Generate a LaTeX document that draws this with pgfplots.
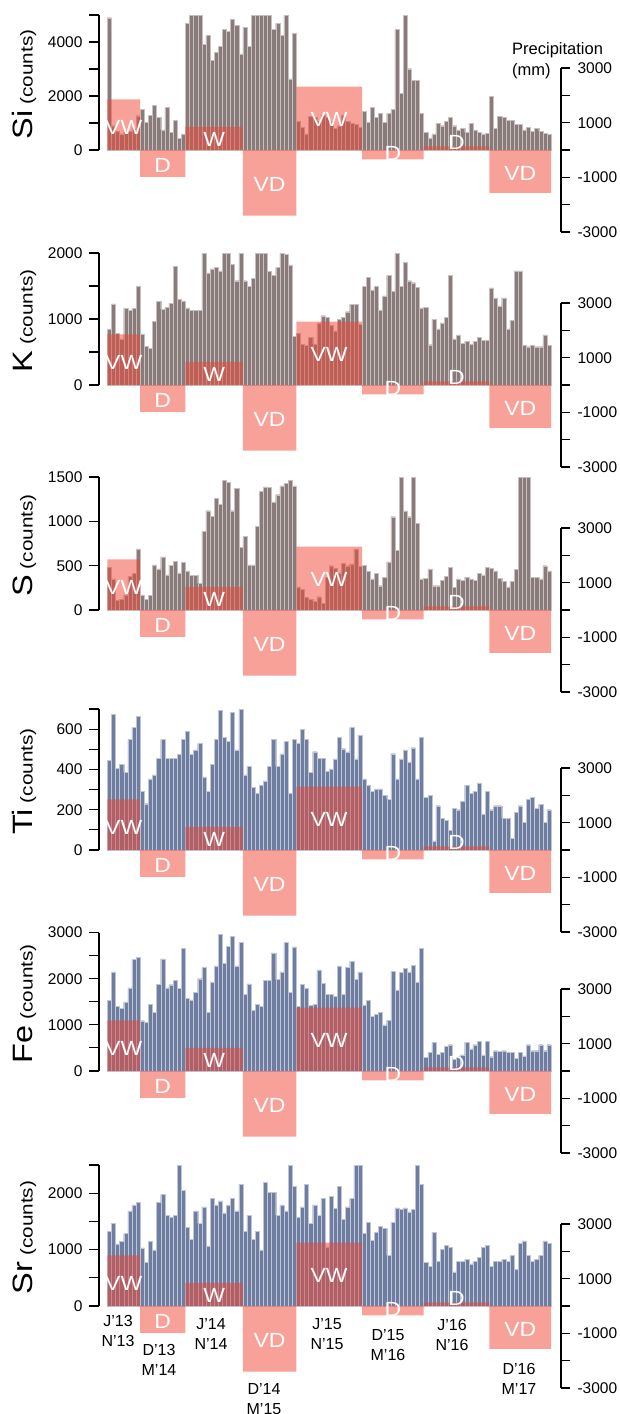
\documentclass[border=0pt]{standalone}
\usepackage{graphicx}
\usepackage{pgfplots}
\pgfplotsset{compat=1.18}
\usepackage{pgfplotstable}
\usepackage{fontspec}
\setmainfont{Liberation Sans}

\definecolor{greybar}{RGB}{138,123,123}
\definecolor{greyedge}{RGB}{200,192,192}
\definecolor{bluebar}{RGB}{110,125,160}
\definecolor{blueedge}{RGB}{190,198,215}
\definecolor{salm}{RGB}{239,68,52}

\pgfplotstableread[row sep=\\]{x y\\0 1850\\8 -980\\19 850\\33 -2400\\46 2320\\62 -340\\77 130\\93 -1570\\108 0\\}\precipData

\pgfplotstableread[row sep=\\]{y\\4900\\900\\700\\600\\650\\700\\800\\1270\\
1506\\1037\\1272\\1654\\1198\\741\\1580\\654\\1111\\432\\593\\
4691\\5000\\5000\\5000\\3926\\4235\\3309\\3617\\3852\\4457\\4383\\4840\\4605\\3556\\
4543\\3852\\5000\\5000\\5000\\5000\\5000\\4457\\4691\\4235\\5000\\2630\\4309\\
1050\\850\\600\\1250\\1200\\1050\\1300\\1200\\1050\\800\\900\\1300\\1050\\1000\\950\\830\\
1432\\1037\\1580\\1198\\1346\\1037\\1346\\1506\\4457\\2111\\5000\\3012\\2568\\2568\\1346\\
650\\450\\600\\1000\\900\\1050\\1200\\900\\750\\800\\650\\1000\\750\\650\\600\\620\\
2000\\800\\1250\\1200\\1100\\1100\\950\\950\\750\\850\\700\\800\\700\\620\\580\\}\siData

\pgfplotstableread[row sep=\\]{y\\850\\1230\\780\\700\\1160\\1130\\1160\\1500\\
773\\586\\560\\960\\1268\\1150\\1177\\1237\\1793\\1303\\1273\\
1170\\1130\\1130\\1130\\2000\\1700\\1760\\1780\\1730\\1990\\2000\\1830\\1580\\2000\\
1580\\1500\\1620\\2000\\2000\\2000\\1720\\1660\\1780\\2000\\1980\\1820\\740\\
780\\620\\600\\720\\620\\940\\1050\\1030\\900\\820\\1000\\1030\\1110\\1220\\1220\\920\\
1500\\1630\\1440\\1500\\1140\\1350\\1660\\1420\\2000\\1500\\1860\\1580\\1550\\1480\\1170\\
1180\\610\\1000\\850\\940\\1030\\1660\\700\\760\\630\\660\\620\\660\\720\\680\\680\\
1470\\1320\\1200\\1320\\850\\980\\1730\\1730\\600\\580\\600\\580\\580\\760\\600\\}\kData

\pgfplotstableread[row sep=\\]{y\\480\\350\\110\\120\\170\\380\\410\\690\\
170\\120\\165\\510\\465\\600\\395\\505\\550\\420\\540\\
440\\390\\390\\300\\890\\1120\\1060\\1260\\1190\\1460\\1440\\1120\\1370\\710\\
830\\510\\510\\940\\1340\\1390\\1380\\1220\\1300\\1400\\1430\\1460\\1400\\
260\\230\\140\\120\\100\\150\\75\\370\\500\\470\\420\\530\\500\\520\\690\\490\\
507\\433\\352\\415\\274\\370\\544\\1052\\674\\1500\\1118\\1052\\1500\\981\\352\\
359\\463\\274\\274\\333\\378\\481\\256\\352\\333\\370\\352\\333\\415\\396\\481\\
470\\440\\360\\320\\260\\320\\460\\1500\\1500\\1500\\370\\370\\350\\500\\440\\}\sData

\pgfplotstableread[row sep=\\]{y\\445\\672\\405\\425\\385\\548\\608\\662\\
292\\230\\353\\373\\455\\548\\455\\455\\455\\475\\548\\
588\\475\\497\\528\\363\\292\\425\\548\\692\\558\\538\\682\\497\\698\\
373\\415\\312\\280\\322\\343\\415\\548\\415\\477\\538\\280\\548\\
528\\600\\548\\385\\488\\455\\455\\392\\403\\453\\558\\503\\487\\608\\453\\570\\
353\\322\\292\\303\\303\\270\\253\\478\\353\\453\\497\\437\\508\\353\\558\\
260\\270\\45\\220\\158\\147\\97\\208\\200\\242\\322\\280\\292\\333\\180\\292\\
200\\220\\220\\158\\158\\58\\188\\220\\138\\250\\262\\208\\228\\138\\200\\}\tiData

\pgfplotstableread[row sep=\\]{y\\1530\\2150\\1400\\1360\\1500\\1800\\2420\\2460\\
1090\\1060\\1440\\1270\\1880\\2430\\1800\\1870\\1970\\1790\\2650\\
1580\\1540\\1710\\2000\\2240\\1270\\1930\\2280\\2960\\2330\\2700\\2910\\2280\\2780\\
1660\\1890\\1320\\1440\\1400\\1970\\1970\\2560\\1980\\2150\\2790\\1700\\2690\\
1400\\1880\\1790\\1420\\1440\\2190\\1900\\1660\\1660\\1620\\2280\\1660\\2240\\2380\\1980\\2150\\
1430\\1530\\1180\\1230\\1270\\1000\\1100\\2160\\1760\\2140\\2230\\2150\\2290\\1930\\2650\\
300\\400\\620\\360\\400\\530\\570\\250\\320\\350\\620\\480\\570\\650\\350\\650\\
310\\440\\420\\440\\400\\400\\270\\400\\330\\570\\440\\440\\570\\440\\570\\}\feData

\pgfplotstableread[row sep=\\]{y\\1320\\1462\\1100\\1142\\1284\\1686\\1793\\1834\\
1030\\769\\1142\\994\\1834\\1976\\1609\\1574\\1609\\2500\\2047\\
1390\\1178\\1686\\1467\\1757\\1065\\1905\\1793\\1864\\1651\\1793\\1905\\1686\\2160\\
1320\\1609\\1178\\1320\\994\\2195\\2012\\2012\\1609\\1793\\1686\\2500\\2118\\
1574\\1757\\2160\\1467\\1793\\1609\\1905\\1050\\1940\\1728\\2118\\1538\\1757\\1905\\2500\\2500\\
1284\\1486\\1166\\1302\\1414\\1373\\900\\1486\\1740\\1710\\1740\\1670\\1710\\2500\\2160\\
769\\698\\1302\\787\\1006\\1077\\1041\\604\\787\\787\\822\\746\\787\\858\\1041\\1077\\
698\\787\\787\\822\\787\\893\\645\\1112\\1153\\893\\787\\822\\893\\1153\\1112\\}\srData

\pgfplotsset{
  base/.style={scale only axis, width=462pt, xmin=-2.02, xmax=110.43,
    axis x line=none, y axis line style={draw=none},
    tick align=outside,
    tick style={black, line width=1.1pt},
    clip mode=individual, anchor=north west},
  cnt/.style={base, axis y line*=left, major tick length=10pt, minor tick length=10pt,
    yticklabel style={font=\fontsize{15.5}{15.5}\selectfont, xshift=-3pt}},
  pre/.style={base, axis y line*=right, ymin=-3000, major tick length=9pt, minor tick length=9pt,
    yticklabel style={font=\fontsize{15.5}{15.5}\selectfont, xshift=4pt},
    ytick={-3000,-1000,1000,3000}, yticklabels={-3000,-1000,1000,3000},
    minor ytick={-2000,0,2000}},
}
\tikzset{lab/.style={text=white, font=\fontsize{20.5}{20.5}\selectfont, inner sep=0pt}}
\newcommand\wl[1]{\scalebox{1.12}[1]{#1}}

\newcommand\rectlabels{%
  \node[lab] at (axis cs:4,820) {\wl{VW}};
  \node[lab] at (axis cs:13.5,-550) {\wl{D}};
  \node[lab] at (axis cs:26,380) {\wl{W}};
  \node[lab] at (axis cs:39.5,-1250) {\wl{VD}};
  \node[lab] at (axis cs:54,1130) {\wl{VW}};
  \node[lab] at (axis cs:69.5,-110) {\wl{D}};
  \node[lab] at (axis cs:85,260) {\wl{D}};
  \node[lab] at (axis cs:100.5,-850) {\wl{VD}};
}
\newcommand\precipaxis[2]{%
  \pgfmathsetmacro\pmax{(#2-82)*36.5855}%
  \begin{axis}[pre, at={(99pt,#1pt)}, height=#2pt, ymax=\pmax]
    \addplot[ybar interval, fill=salm, fill opacity=0.5, draw=none] table[x=x,y=y] {\precipData};
    \draw[line width=1.2pt] (axis cs:110.43,-3000) -- (axis cs:110.43,3000);
    \rectlabels
  \end{axis}}

\begin{document}
\begin{tikzpicture}
\path[use as bounding box] (0pt,0pt) rectangle (620pt,-1414pt);

% ---- Si ----
\begin{axis}[cnt, at={(99pt,-15pt)}, height=217pt, ymin=-3037, ymax=5000,
  ytick={0,2000,4000}, yticklabels={0,2000,4000}, minor ytick={1000,3000,5000}]
  \addplot[ybar, bar width=1, bar shift=0pt, fill=greybar, draw=greyedge, line width=0.35pt]
    table[x expr=\coordindex+0.5, y=y] {\siData};
  \draw[line width=1.2pt] (axis cs:-2.02,0) -- (axis cs:-2.02,5000);
\end{axis}
\precipaxis{-15}{217}

% ---- K ----
\begin{axis}[cnt, at={(99pt,-253pt)}, height=214pt, ymin=-1242.4, ymax=2000,
  ytick={0,1000,2000}, yticklabels={0,1000,2000}, minor ytick={500,1500}]
  \addplot[ybar, bar width=1, bar shift=0pt, fill=greybar, draw=greyedge, line width=0.35pt]
    table[x expr=\coordindex+0.5, y=y] {\kData};
  \draw[line width=1.2pt] (axis cs:-2.02,0) -- (axis cs:-2.02,2000);
\end{axis}
\precipaxis{-253}{214}

% ---- S ----
\begin{axis}[cnt, at={(99pt,-477pt)}, height=215pt, ymin=-924.8, ymax=1500,
  ytick={0,500,1000,1500}, yticklabels={0,500,1000,1500}]
  \addplot[ybar, bar width=1, bar shift=0pt, fill=greybar, draw=greyedge, line width=0.35pt]
    table[x expr=\coordindex+0.5, y=y] {\sData};
  \draw[line width=1.2pt] (axis cs:-2.02,0) -- (axis cs:-2.02,1500);
\end{axis}
\precipaxis{-477}{215}

% ---- Ti ----
\begin{axis}[cnt, at={(99pt,-709pt)}, height=223pt, ymin=-407.1, ymax=700,
  ytick={0,200,400,600}, yticklabels={0,200,400,600}, minor ytick={100,300,500,700}]
  \addplot[ybar, bar width=1, bar shift=0pt, fill=bluebar, draw=blueedge, line width=0.35pt]
    table[x expr=\coordindex+0.5, y=y] {\tiData};
  \draw[line width=1.2pt] (axis cs:-2.02,0) -- (axis cs:-2.02,700);
\end{axis}
\precipaxis{-709}{223}

% ---- Fe ----
\begin{axis}[cnt, at={(99pt,-932.5pt)}, height=220.5pt, ymin=-1776.2, ymax=3000,
  ytick={0,1000,2000,3000}, yticklabels={0,1000,2000,3000}, minor ytick={500,1500,2500}]
  \addplot[ybar, bar width=1, bar shift=0pt, fill=bluebar, draw=blueedge, line width=0.35pt]
    table[x expr=\coordindex+0.5, y=y] {\feData};
  \draw[line width=1.2pt] (axis cs:-2.02,0) -- (axis cs:-2.02,3000);
\end{axis}
\precipaxis{-932.5}{220.5}

% ---- Sr ----
\begin{axis}[cnt, at={(99pt,-1165pt)}, height=223pt, ymin=-1453.9, ymax=2500,
  ytick={0,1000,2000}, yticklabels={0,1000,2000}, minor ytick={500,1500,2500}]
  \addplot[ybar, bar width=1, bar shift=0pt, fill=bluebar, draw=blueedge, line width=0.35pt]
    table[x expr=\coordindex+0.5, y=y] {\srData};
  \draw[line width=1.2pt] (axis cs:-2.02,0) -- (axis cs:-2.02,2500);
\end{axis}
\precipaxis{-1165}{223}

% y labels
\foreach \yc/\el in {84.5/Si, 321/K, 545.5/S, 781.5/Ti, 1003.75/Fe, 1237.5/Sr}{
  \node[rotate=90, anchor=base, inner sep=0pt] at (32.5pt,-\yc pt)
    {\scalebox{1.16}[1]{\fontsize{28}{28}\selectfont \el}\hspace{6pt}\scalebox{1.2}[1]{\fontsize{17.3}{17.3}\selectfont(counts)}};
}

% precipitation title
\node[anchor=base west, inner sep=0pt, font=\fontsize{16.5}{16.5}\selectfont] at (512pt,-54pt) {Precipitation};
\node[anchor=base west, inner sep=0pt, font=\fontsize{16.5}{16.5}\selectfont] at (512pt,-75pt) {(mm)};

% period labels
\foreach \xx/\ya/\la/\lb in {118/1326/J’13/N’13, 159/1355/D’13/M’14, 211/1329/J’14/N’14,
   264/1394/D’14/M’15, 327/1329/J’15/N’15, 388/1340/D’15/M’16, 452/1330/J’16/N’16, 519/1374/D’16/M’17}{
  \node[anchor=base, inner sep=0pt, font=\fontsize{16}{16}\selectfont] at (\xx pt,-\ya pt) {\la};
  \node[anchor=base, inner sep=0pt, font=\fontsize{16}{16}\selectfont] at (\xx pt,-\ya pt-20pt) {\lb};
}
\end{tikzpicture}
\end{document}
